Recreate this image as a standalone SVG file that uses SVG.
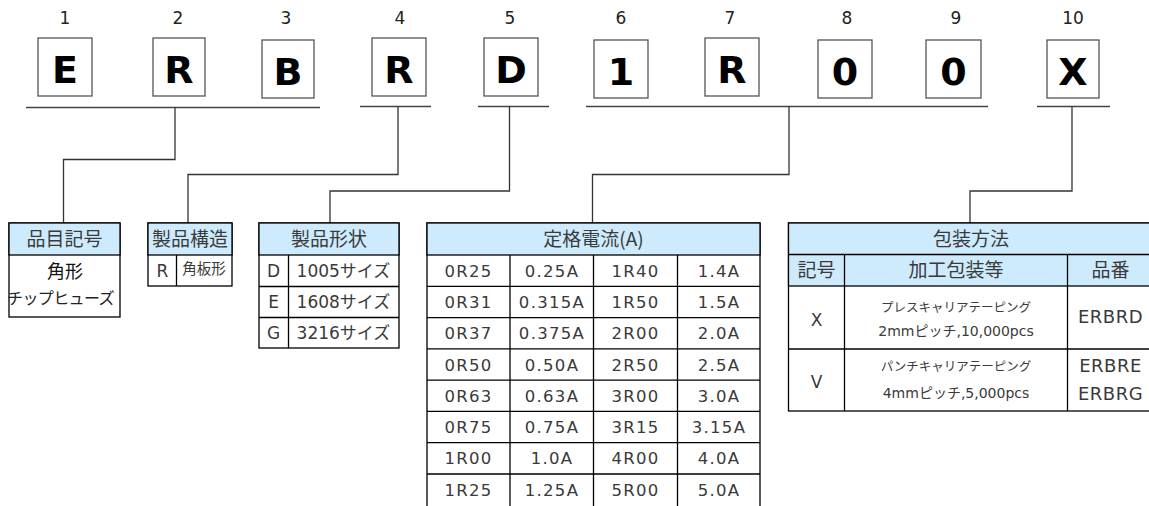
<svg xmlns="http://www.w3.org/2000/svg" width="1149" height="506" viewBox="0 0 1149 506">
<style>
  .num{font-family:"DejaVu Sans","Noto Sans CJK JP",sans-serif;font-size:17px;fill:#222;text-anchor:middle}
  .box{fill:#fff;stroke:#555;stroke-width:1.3}
  .let{font-family:"DejaVu Sans",sans-serif;font-weight:bold;font-size:38px;fill:#000;text-anchor:middle}
  .bus{stroke:#444;stroke-width:1.3;fill:none}
  .con{stroke:#333;stroke-width:1.3;fill:none}
  .hdr{fill:#cdebfc;stroke:#000;stroke-width:1.3}
  .cell{fill:#fff;stroke:#000;stroke-width:1.3}
  .ln{stroke:#000;stroke-width:1.3;fill:none}
  .ht{font-family:"Noto Sans CJK JP",sans-serif;font-size:19px;fill:#3a3a3a;text-anchor:middle}
  .t{font-family:"DejaVu Sans","Noto Sans CJK JP",sans-serif;font-size:16.5px;fill:#3a3a3a;text-anchor:middle;letter-spacing:1.3px}
  .tj{font-family:"DejaVu Sans","Noto Sans CJK JP",sans-serif;font-size:17px;fill:#3a3a3a;text-anchor:middle}
  .ts{font-family:"DejaVu Sans","Noto Sans CJK JP",sans-serif;font-size:12.5px;fill:#3a3a3a;text-anchor:middle}
</style>

<g id="positions">
  <g id="pos1"><text class="num" x="65" y="24">1</text><rect class="box" x="38" y="38" width="54" height="58"/><text class="let" x="65" y="83">E</text></g>
  <g id="pos2"><text class="num" x="178" y="24">2</text><rect class="box" x="153" y="38" width="52" height="58"/><text class="let" x="179" y="83">R</text></g>
  <g id="pos3"><text class="num" x="286" y="24">3</text><rect class="box" x="262" y="40" width="52" height="58"/><text class="let" x="288" y="85">B</text></g>
  <g id="pos4"><text class="num" x="400" y="24">4</text><rect class="box" x="372" y="38" width="54" height="58"/><text class="let" x="399" y="83">R</text></g>
  <g id="pos5"><text class="num" x="510" y="24">5</text><rect class="box" x="484" y="38" width="54" height="58"/><text class="let" x="511" y="83">D</text></g>
  <g id="pos6"><text class="num" x="621" y="24">6</text><rect class="box" x="594" y="40" width="54" height="58"/><text class="let" x="621" y="85">1</text></g>
  <g id="pos7"><text class="num" x="730" y="24">7</text><rect class="box" x="705" y="38" width="54" height="58"/><text class="let" x="732" y="83">R</text></g>
  <g id="pos8"><text class="num" x="847" y="24">8</text><rect class="box" x="818" y="40" width="54" height="58"/><text class="let" x="845" y="85">0</text></g>
  <g id="pos9"><text class="num" x="956" y="24">9</text><rect class="box" x="926" y="40" width="55" height="58"/><text class="let" x="953.5" y="85">0</text></g>
  <g id="pos10"><text class="num" x="1073" y="24">10</text><rect class="box" x="1047" y="40" width="52" height="58"/><text class="let" x="1073" y="85">X</text></g>
</g>

<g id="connectors">
  <line class="bus" x1="26" y1="107.5" x2="320" y2="107.5"/>
  <line class="bus" x1="360" y1="106.5" x2="431" y2="106.5"/>
  <line class="bus" x1="478" y1="106.5" x2="549" y2="106.5"/>
  <line class="bus" x1="586" y1="106.5" x2="988" y2="106.5"/>
  <line class="bus" x1="1037" y1="106.5" x2="1110" y2="106.5"/>
  <polyline class="con" points="175,107.5 175,159.5 63.5,159.5 63.5,223"/>
  <polyline class="con" points="398,106.5 398,174.5 188,174.5 188,223"/>
  <polyline class="con" points="509.5,106.5 509.5,191 330,191 330,223"/>
  <polyline class="con" points="789,106.5 789,174.5 592.5,174.5 592.5,223"/>
  <polyline class="con" points="1072,106.5 1072,191 970,191 970,223"/>
</g>

<g id="table-hinmoku">
  <rect class="cell" x="9" y="223" width="111" height="94"/>
  <rect class="hdr" x="9" y="223" width="111" height="32"/>
  <text class="ht" x="64.5" y="246">品目記号</text>
  <text class="tj" x="65" y="278" style="font-size:18px;fill:#111">角形</text>
  <text class="tj" x="60.5" y="304" style="font-size:16px;letter-spacing:-0.6px;fill:#222">チップヒューズ</text>
</g>

<g id="table-kouzou">
  <rect class="cell" x="148" y="223" width="84" height="63"/>
  <rect class="hdr" x="148" y="223" width="84" height="32"/>
  <text class="ht" x="190" y="246">製品構造</text>
  <line class="ln" x1="176.5" y1="255" x2="176.5" y2="286"/>
  <text class="t" x="162.5" y="277" style="font-size:17px;letter-spacing:0">R</text>
  <text class="ts" x="204" y="274" style="font-size:14.5px">角板形</text>
</g>

<g id="table-keijou">
  <rect class="cell" x="259" y="223" width="140" height="125"/>
  <rect class="hdr" x="259" y="223" width="140" height="32"/>
  <text class="ht" x="329" y="246">製品形状</text>
  <line class="ln" x1="259" y1="286.5" x2="399" y2="286.5"/>
  <line class="ln" x1="259" y1="317.5" x2="399" y2="317.5"/>
  <line class="ln" x1="288.5" y1="255" x2="288.5" y2="348"/>
  <text class="t" x="273.5" y="277" style="font-size:17px;letter-spacing:0">D</text>
  <text class="tj" x="343.5" y="277">1005サイズ</text>
  <text class="t" x="273.5" y="308" style="font-size:17px;letter-spacing:0">E</text>
  <text class="tj" x="343.5" y="308">1608サイズ</text>
  <text class="t" x="273.5" y="339" style="font-size:17px;letter-spacing:0">G</text>
  <text class="tj" x="343.5" y="339">3216サイズ</text>
</g>

<g id="table-current">
  <rect class="cell" x="427" y="223" width="333" height="290"/>
  <rect class="hdr" x="427" y="223" width="333" height="32"/>
  <text class="ht" x="593.5" y="246">定格電流(A)</text>
  <line class="ln" x1="427" y1="286.3" x2="760" y2="286.3"/>
  <line class="ln" x1="427" y1="317.6" x2="760" y2="317.6"/>
  <line class="ln" x1="427" y1="348.9" x2="760" y2="348.9"/>
  <line class="ln" x1="427" y1="380.1" x2="760" y2="380.1"/>
  <line class="ln" x1="427" y1="411.4" x2="760" y2="411.4"/>
  <line class="ln" x1="427" y1="442.7" x2="760" y2="442.7"/>
  <line class="ln" x1="427" y1="474" x2="760" y2="474"/>
  <line class="ln" x1="510" y1="255" x2="510" y2="513"/>
  <line class="ln" x1="593.5" y1="255" x2="593.5" y2="513"/>
  <line class="ln" x1="677.5" y1="255" x2="677.5" y2="513"/>
  <g>
    <text class="t" x="468.5" y="277">0R25</text><text class="t" x="552" y="277">0.25A</text><text class="t" x="635.5" y="277">1R40</text><text class="t" x="719" y="277">1.4A</text>
    <text class="t" x="468.5" y="308">0R31</text><text class="t" x="552" y="308">0.315A</text><text class="t" x="635.5" y="308">1R50</text><text class="t" x="719" y="308">1.5A</text>
    <text class="t" x="468.5" y="339">0R37</text><text class="t" x="552" y="339">0.375A</text><text class="t" x="635.5" y="339">2R00</text><text class="t" x="719" y="339">2.0A</text>
    <text class="t" x="468.5" y="370.5">0R50</text><text class="t" x="552" y="370.5">0.50A</text><text class="t" x="635.5" y="370.5">2R50</text><text class="t" x="719" y="370.5">2.5A</text>
    <text class="t" x="468.5" y="401.5">0R63</text><text class="t" x="552" y="401.5">0.63A</text><text class="t" x="635.5" y="401.5">3R00</text><text class="t" x="719" y="401.5">3.0A</text>
    <text class="t" x="468.5" y="433">0R75</text><text class="t" x="552" y="433">0.75A</text><text class="t" x="635.5" y="433">3R15</text><text class="t" x="719" y="433">3.15A</text>
    <text class="t" x="468.5" y="464">1R00</text><text class="t" x="552" y="464">1.0A</text><text class="t" x="635.5" y="464">4R00</text><text class="t" x="719" y="464">4.0A</text>
    <text class="t" x="468.5" y="495.5">1R25</text><text class="t" x="552" y="495.5">1.25A</text><text class="t" x="635.5" y="495.5">5R00</text><text class="t" x="719" y="495.5">5.0A</text>
  </g>
</g>

<g id="table-package">
  <rect class="cell" x="788.5" y="223" width="366" height="188"/>
  <rect class="hdr" x="788.5" y="223" width="366" height="63"/>
  <line class="ln" x1="788.5" y1="254.5" x2="1155" y2="254.5"/>
  <line class="ln" x1="788.5" y1="349" x2="1155" y2="349"/>
  <line class="ln" x1="844.5" y1="254.5" x2="844.5" y2="411"/>
  <line class="ln" x1="1067.5" y1="254.5" x2="1067.5" y2="411"/>
  <text class="ht" x="971" y="246">包装方法</text>
  <text class="ht" x="816.5" y="277">記号</text>
  <text class="ht" x="956" y="277">加工包装等</text>
  <text class="ht" x="1110.5" y="277">品番</text>
  <text class="tj" x="816.5" y="326">X</text>
  <text class="ts" x="956" y="311.5">プレスキャリアテーピング</text>
  <text class="ts" x="956" y="335.5" style="font-size:14px">2mmピッチ,10,000pcs</text>
  <text class="tj" x="1110.5" y="323" style="font-size:18px;letter-spacing:0.5px">ERBRD</text>
  <text class="tj" x="816.5" y="388">V</text>
  <text class="ts" x="956" y="371">パンチキャリアテーピング</text>
  <text class="ts" x="956" y="398" style="font-size:14px">4mmピッチ,5,000pcs</text>
  <text class="tj" x="1110.5" y="371.5" style="font-size:18px;letter-spacing:0.5px">ERBRE</text>
  <text class="tj" x="1110.5" y="399.5" style="font-size:18px;letter-spacing:0.5px">ERBRG</text>
</g>
</svg>
